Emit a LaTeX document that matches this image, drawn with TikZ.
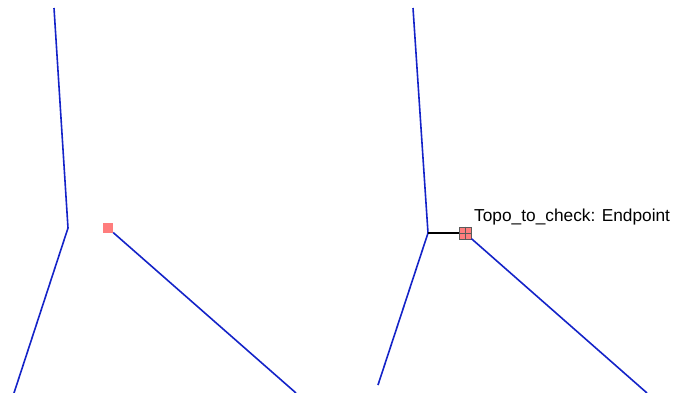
\documentclass[tikz,border=0pt]{standalone}
\usepackage{fontspec}
\setmainfont{Liberation Sans}
\definecolor{edgeblue}{RGB}{20,35,200}
\definecolor{pinkfill}{RGB}{255,125,125}
\definecolor{boxgray}{RGB}{90,90,90}
\tikzset{
  edge/.style={draw=edgeblue, line width=1.6pt},
  ptsq/.style={rectangle, fill=pinkfill, minimum size=10pt, inner sep=0pt},
  selsq/.style={rectangle, fill=pinkfill, draw=boxgray, line width=1pt, minimum size=12pt, inner sep=0pt},
  lbl/.style={font=\fontsize{17.3pt}{20pt}\selectfont, inner sep=0pt, anchor=base west}
}
\begin{document}
\begin{tikzpicture}[x=1pt,y=-1pt]
\useasboundingbox (0,0) rectangle (673,392);
% left
\coordinate (a1) at (54,8);
\coordinate (a2) at (68,228);
\coordinate (a3) at (14,393);
\coordinate (ae) at (296,393);
\node[ptsq] (s1) at (108,228) {};
\draw[edge] (a1) -- (a2) -- (a3);
\draw[edge] (s1) -- (ae);
% right
\coordinate (b1) at (413,8);
\coordinate (b2) at (428,233);
\coordinate (b3) at (378,385);
\coordinate (be) at (647,393);
\node[selsq] (s2) at (465,233) {};
\draw[boxgray, line width=0.8pt] (s2.north) -- (s2.south) (s2.west) -- (s2.east);
\draw[edge] (b1) -- (b2) -- (b3);
\draw[edge] (s2) -- (be);
\draw[black, line width=1.2pt] (b2) -- (s2.west);
\node[lbl] (t) at (474,221) {Topo\_to\_check: Endpoint};
\end{tikzpicture}
\end{document}
